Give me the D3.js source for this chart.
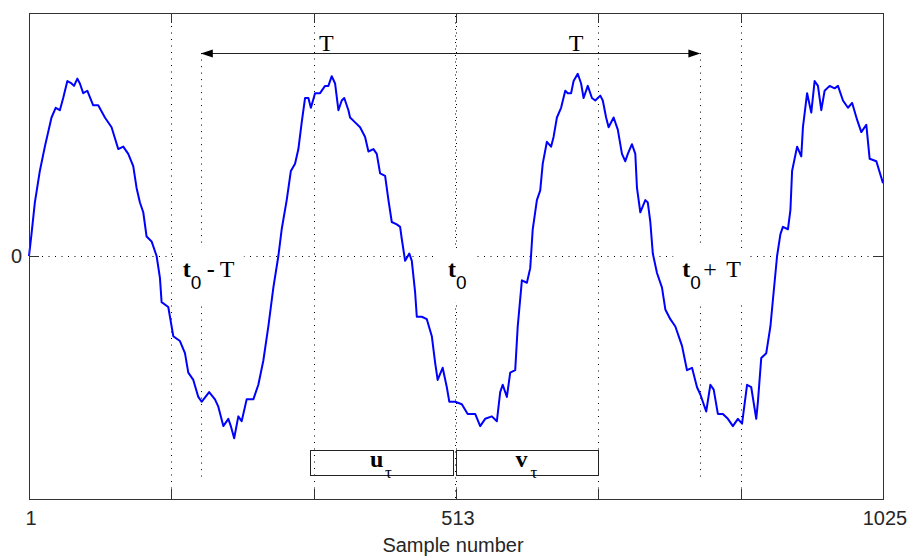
<!DOCTYPE html>
<html>
<head>
<meta charset="utf-8">
<script src="https://cdn.jsdelivr.net/npm/d3@7"></script>
<style>
  body { margin: 0; background: #fff; }
  .tick-text { font-family: "Liberation Sans", Arial, sans-serif; font-size: 20px; fill: #262626; }
  .serif { font-family: "Liberation Serif", "Times New Roman", serif; fill: #000; }
  .sub { font-family: "Liberation Sans", Arial, sans-serif; fill: #000; }
</style>
</head>
<body>
<div class="chart"></div>
<script>
// sample positions and signal values
var sampleIdx = [1,4,8,14,20,28,33,38,42,47,
  52,55,59,62,66,71,78,84,92,100,
  108,114,120,126,130,134,138,142,148,154,
  158,160,168,174,182,188,192,198,204,208,
  217,224,228,234,240,243,247,252,256,262,
  270,276,282,288,294,300,304,310,315,320,
  324,328,332,336,339,344,350,356,360,364,
  368,372,376,379,384,386,392,398,404,408,
  414,418,422,428,432,436,442,446,448,452,
  457,460,464,466,472,478,484,488,491,497,
  502,505,512,520,527,536,542,548,556,562,
  566,569,574,578,584,587,592,598,602,605,
  610,614,617,622,627,630,634,639,644,647,
  651,654,659,663,666,671,676,680,686,689,
  693,696,702,707,712,716,719,724,728,730,
  734,740,743,746,749,754,760,764,770,776,
  784,790,796,802,806,813,818,822,827,833,
  839,845,851,856,862,867,873,875,879,885,
  890,893,898,902,905,911,914,916,922,927,
  929,934,939,943,947,951,955,961,967,971,
  977,983,988,994,999,1005,1009,1017,1025];

var signal = [0.00,0.09,0.22,0.35,0.45,0.57,0.61,0.60,0.65,0.72,
  0.71,0.70,0.73,0.71,0.67,0.68,0.62,0.62,0.57,0.53,
  0.44,0.45,0.42,0.37,0.28,0.22,0.18,0.08,0.06,0.00,
  -0.09,-0.19,-0.21,-0.33,-0.35,-0.40,-0.48,-0.51,-0.58,-0.60,
  -0.56,-0.59,-0.62,-0.70,-0.67,-0.70,-0.75,-0.66,-0.68,-0.59,
  -0.59,-0.53,-0.43,-0.29,-0.13,0.00,0.11,0.23,0.35,0.38,
  0.44,0.55,0.65,0.65,0.61,0.67,0.67,0.70,0.70,0.74,
  0.71,0.60,0.64,0.65,0.60,0.57,0.55,0.53,0.49,0.43,
  0.44,0.42,0.34,0.33,0.23,0.14,0.13,0.12,0.07,-0.02,
  0.01,-0.02,-0.15,-0.25,-0.25,-0.26,-0.33,-0.44,-0.51,-0.46,
  -0.54,-0.60,-0.60,-0.61,-0.65,-0.65,-0.70,-0.67,-0.66,-0.68,
  -0.56,-0.53,-0.58,-0.48,-0.47,-0.29,-0.10,-0.11,-0.05,0.11,
  0.23,0.27,0.38,0.47,0.45,0.49,0.57,0.61,0.68,0.67,
  0.67,0.72,0.75,0.71,0.65,0.70,0.65,0.64,0.66,0.64,
  0.57,0.53,0.57,0.52,0.42,0.39,0.42,0.46,0.42,0.28,
  0.18,0.23,0.22,0.14,0.01,-0.07,-0.13,-0.22,-0.26,-0.29,
  -0.37,-0.47,-0.46,-0.54,-0.57,-0.64,-0.53,-0.55,-0.65,-0.65,
  -0.67,-0.70,-0.67,-0.69,-0.53,-0.54,-0.67,-0.60,-0.42,-0.40,
  -0.29,-0.18,0.00,0.09,0.12,0.11,0.19,0.35,0.45,0.41,
  0.53,0.67,0.59,0.72,0.70,0.60,0.68,0.70,0.69,0.70,
  0.64,0.61,0.63,0.56,0.51,0.54,0.40,0.39,0.30];

// x ticks: six equal divisions, only three labelled
var xTickValues = [1, 171.67, 342.33, 513, 683.67, 854.33, 1025];
var xTickLabels = ["1", "", "", "513", "", "", "1025"];
var yTickValues = [0];
var yTickLabels = ["0"];
var xLabel = "Sample number";

// annotation positions (sample numbers)
var t0 = 513;
var t0MinusT = 207;
var t0PlusT = 806;
var uBox = [338, 509];
var vBox = [513, 683.67];

var svgWidth = 912, svgHeight = 558;
var margin = { top: 13, right: 29, bottom: 59, left: 29 };
var chartWidth = svgWidth - margin.left - margin.right;
var chartHeight = svgHeight - margin.top - margin.bottom;

var svg = d3.select(".chart")
  .append("svg")
  .attr("width", svgWidth)
  .attr("height", svgHeight)
  .style("display", "block");

svg.append("rect").attr("width", svgWidth).attr("height", svgHeight).attr("fill", "#fff");

var chartGroup = svg.append("g")
  .attr("transform", `translate(${margin.left}, ${margin.top})`);

var xScale = d3.scaleLinear().domain([1, 1025]).range([0, chartWidth]);
var yScale = d3.scaleLinear().domain([-1, 1]).range([chartHeight, 0]);

var dots = "1,5.5";

// grid lines
chartGroup.selectAll(".vgrid")
  .data(xTickValues.slice(1, -1))
  .enter()
  .append("line")
  .attr("x1", d => Math.round(xScale(d)) + 0.5)
  .attr("x2", d => Math.round(xScale(d)) + 0.5)
  .attr("y1", 0)
  .attr("y2", chartHeight)
  .attr("stroke", "#000")
  .attr("stroke-dasharray", dots);

chartGroup.selectAll(".hgrid")
  .data(yTickValues)
  .enter()
  .append("line")
  .attr("x1", 0)
  .attr("x2", chartWidth)
  .attr("y1", d => Math.round(yScale(d)) + 0.5)
  .attr("y2", d => Math.round(yScale(d)) + 0.5)
  .attr("stroke", "#000")
  .attr("stroke-dasharray", dots);

// dotted markers at t0 - T, t0, t0 + T
var arrowY = 0.835;
var markerBottom = -0.91;
[t0MinusT, t0PlusT].forEach(function(s) {
  chartGroup.append("line")
    .attr("x1", Math.round(xScale(s)) + 0.5)
    .attr("x2", Math.round(xScale(s)) + 0.5)
    .attr("y1", yScale(arrowY))
    .attr("y2", yScale(markerBottom))
    .attr("stroke", "#000")
    .attr("stroke-dasharray", dots);
});
chartGroup.append("line")
  .attr("x1", Math.round(xScale(t0)) - 0.5)
  .attr("x2", Math.round(xScale(t0)) - 0.5)
  .attr("y1", 3)
  .attr("y2", chartHeight)
  .attr("stroke", "#000")
  .attr("stroke-dasharray", "1,5.5");

// white backgrounds behind the t labels
var labelBg = [
  { x0: t0MinusT, dx0: -23, dx1: 43 },
  { x0: t0, dx0: -19, dx1: 16 },
  { x0: t0PlusT, dx0: -27, dx1: 48 }
];
chartGroup.selectAll(".lbg")
  .data(labelBg)
  .enter()
  .append("rect")
  .attr("x", d => xScale(d.x0) + d.dx0)
  .attr("y", yScale(0.033))
  .attr("width", d => d.dx1 - d.dx0)
  .attr("height", yScale(-0.193) - yScale(0.033))
  .attr("fill", "#fff");

// signal line
var lineData = sampleIdx.map((s, i) => [s, signal[i]]);
var line = d3.line()
  .x(d => xScale(d[0]))
  .y(d => yScale(d[1]));

chartGroup.append("path")
  .datum(lineData)
  .attr("d", line)
  .attr("fill", "none")
  .attr("stroke", "#0000ff")
  .attr("stroke-width", 2)
  .attr("stroke-linejoin", "round");

// axes box and ticks
var axisColor = "#333";
chartGroup.append("rect")
  .attr("x", 0.5).attr("y", 0.5)
  .attr("width", chartWidth).attr("height", chartHeight)
  .attr("fill", "none")
  .attr("stroke", axisColor);

var tickLen = 10;
xTickValues.forEach(function(v) {
  var x = Math.round(xScale(v)) + 0.5;
  chartGroup.append("line").attr("x1", x).attr("x2", x)
    .attr("y1", chartHeight).attr("y2", chartHeight - tickLen).attr("stroke", axisColor);
  chartGroup.append("line").attr("x1", x).attr("x2", x)
    .attr("y1", 0).attr("y2", tickLen).attr("stroke", axisColor);
});
yTickValues.forEach(function(v) {
  var y = Math.round(yScale(v)) + 0.5;
  chartGroup.append("line").attr("x1", 0).attr("x2", tickLen)
    .attr("y1", y).attr("y2", y).attr("stroke", axisColor);
  chartGroup.append("line").attr("x1", chartWidth - tickLen).attr("x2", chartWidth)
    .attr("y1", y).attr("y2", y).attr("stroke", axisColor);
});

// tick labels
chartGroup.selectAll(".xlab")
  .data(xTickValues)
  .enter()
  .append("text")
  .attr("class", "tick-text")
  .attr("x", d => xScale(d) + 2)
  .attr("y", chartHeight + 26)
  .attr("text-anchor", "middle")
  .text((d, i) => xTickLabels[i]);

chartGroup.selectAll(".ylab")
  .data(yTickValues)
  .enter()
  .append("text")
  .attr("class", "tick-text")
  .attr("x", -7)
  .attr("y", d => yScale(d) + 7)
  .attr("text-anchor", "end")
  .text((d, i) => yTickLabels[i]);

chartGroup.append("text")
  .attr("class", "tick-text")
  .attr("x", chartWidth / 2 - 3)
  .attr("y", chartHeight + 53)
  .attr("text-anchor", "middle")
  .text(xLabel);

// double arrow between t0 - T and t0 + T
var ay = Math.round(yScale(arrowY)) + 0.5;
var ax0 = xScale(t0MinusT), ax1 = xScale(t0PlusT);
chartGroup.append("line")
  .attr("x1", ax0 + 4).attr("x2", ax1 - 4)
  .attr("y1", ay).attr("y2", ay)
  .attr("stroke", "#222");
chartGroup.append("path")
  .attr("d", `M${ax0},${ay} L${ax0 + 12},${ay - 4} L${ax0 + 12},${ay + 4} Z`)
  .attr("fill", "#000");
chartGroup.append("path")
  .attr("d", `M${ax1},${ay} L${ax1 - 12},${ay - 4} L${ax1 - 12},${ay + 4} Z`)
  .attr("fill", "#000");

// T labels over the arrow
[(t0MinusT + t0) / 2, (t0 + t0PlusT) / 2].forEach(function(s, i) {
  chartGroup.append("text")
    .attr("class", "serif")
    .attr("x", xScale(s) - 2)
    .attr("y", ay - 3)
    .attr("text-anchor", "middle")
    .style("font-size", "24px")
    .text("T");
});

// t labels
var labY = yScale(-0.086);
function tLabel(xs, op) {
  var x = xScale(xs);
  var g = chartGroup.append("g");
  var left = op ? x - 18 : x - 8;
  g.append("text").attr("class", "serif").attr("x", left).attr("y", labY)
    .style("font-size", "24px").style("font-weight", "bold").text("t");
  g.append("text").attr("class", "sub").attr("x", left + 8).attr("y", labY + 12)
    .style("font-size", "19px").text("0");
  if (op == "-") {
    g.append("text").attr("class", "serif").attr("x", left + 24).attr("y", labY)
      .style("font-size", "24px").style("font-weight", "bold").text("-");
    g.append("text").attr("class", "serif").attr("x", left + 37).attr("y", labY)
      .style("font-size", "24px").text("T");
  }
  if (op == "+") {
    g.append("text").attr("class", "serif").attr("x", left + 21).attr("y", labY)
      .style("font-size", "24px").text("+");
    g.append("text").attr("class", "serif").attr("x", left + 44).attr("y", labY)
      .style("font-size", "24px").text("T");
  }
}
tLabel(t0MinusT, "-");
tLabel(t0, null);
tLabel(t0PlusT, "+");

// u and v boxes
var boxTop = yScale(-0.798), boxBottom = yScale(-0.901);
[{ r: uBox, name: "u" }, { r: vBox, name: "v" }].forEach(function(b) {
  var x0 = Math.round(xScale(b.r[0])) + 0.5;
  var x1 = Math.round(xScale(b.r[1])) + 0.5;
  chartGroup.append("rect")
    .attr("x", x0).attr("y", Math.round(boxTop) + 0.5)
    .attr("width", x1 - x0).attr("height", Math.round(boxBottom - boxTop))
    .attr("fill", "none")
    .attr("stroke", "#222");
  var cx = (x0 + x1) / 2;
  chartGroup.append("text").attr("class", "serif")
    .attr("x", cx - 12).attr("y", boxTop + 17)
    .style("font-size", "24px").style("font-weight", "bold").text(b.name);
  chartGroup.append("text").attr("class", "serif")
    .attr("x", cx + 3).attr("y", boxTop + 28)
    .style("font-size", "17px").text("τ");
});
</script>
</body>
</html>
